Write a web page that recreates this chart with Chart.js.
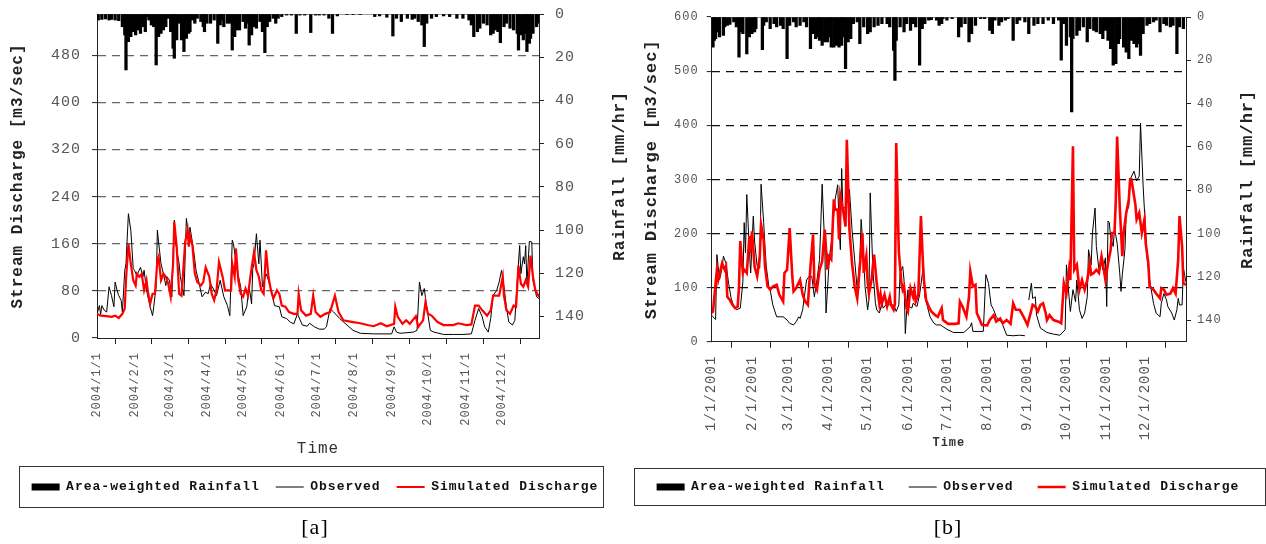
<!DOCTYPE html>
<html>
<head>
<meta charset="utf-8">
<script src="https://cdn.jsdelivr.net/npm/chart.js@4.4.1/dist/chart.umd.min.js"></script>
<style>
  html, body { margin: 0; padding: 0; background: #fff; }
  body { width: 1266px; height: 544px; position: relative; overflow: hidden; }
  .panel { position: absolute; top: 0; height: 544px; }
  #panelA { left: 0; width: 630px; }
  #panelB { left: 630px; width: 636px; }
</style>
</head>
<body>
<div class="panel" id="panelA"><canvas id="chartA"></canvas></div>
<div class="panel" id="panelB"><canvas id="chartB"></canvas></div>
<script>
const seriesNames = ['Area-weighted Rainfall', 'Observed', 'Simulated Discharge'];

// ---- Panel [a], 2004 (day of year) ----
const monthStartsA = [0, 31, 60, 91, 121, 152, 182, 213, 244, 274, 305, 335, 366];
const monthLabelsA = ['2004/1/1', '2004/2/1', '2004/3/1', '2004/4/1', '2004/5/1', '2004/6/1',
  '2004/7/1', '2004/8/1', '2004/9/1', '2004/10/1', '2004/11/1', '2004/12/1', ''];
const dischargeTicksA = [0, 80, 160, 240, 320, 400, 480];

const rainfallA = [[1,2.8],[4,2.5],[7,2.3],[10,2.8],[12,2.5],[15,2.8],[18,3.1],[21,5.9],[23,9.7],[24,25.9],
  [26,12.8],[28,10.5],[30,8.2],[32,9.7],[34,7.4],[36,9],[38,5.9],[40,8.2],[41,1.2],[43,2.8],[45,5.1],[47,5.9],
  [49,23.6],[51,10.5],[53,9],[55,7.4],[57,5.9],[59,2],[61,8.2],[63,15.9],[64,20.5],[66,12],[68,4.3],[70,12],
  [72,17.4],[74,11.3],[76,9],[77,8.2],[79,2.8],[81,4.3],[83,2],[86,3.5],[88,5.9],[89,8.2],[91,4.3],[94,4.3],
  [97,2.8],[100,13.6],[102,5.1],[103,2.8],[105,5.9],[108,4.3],[110,4.3],[112,16.7],[114,10.5],[116,7.4],
  [118,7.4],[121,3.5],[123,6.6],[125,4.3],[126,14.4],[128,9.7],[130,5.9],[132,6.6],[135,3.5],[137,8.2],
  [139,17.9],[141,5.9],[143,3.5],[146,2],[148,4.3],[150,2],[153,1.2],[157,0.5],[161,0.5],[165,9],[168,0.5],
  [172,0.5],[177,8.6],[181,0.5],[184,0.5],[188,0.5],[192,2],[195,9],[199,0.9],[207,0.3],[212,0.3],[218,0.3],
  [230,1.2],[234,0.9],[240,1.5],[245,10.2],[248,2],[252,3.5],[257,2],[261,2.5],[263,2],[266,3.5],[269,5.1],
  [271,15.1],[273,4.3],[277,2],[281,1.2],[287,0.9],[292,1.2],[298,2],[303,2],[308,2.8],[310,5.1],[312,10.5],
  [315,8.2],[317,6.6],[320,4.3],[323,5.1],[326,9.7],[328,9],[330,7.4],[332,8.2],[334,13.3],[337,5.9],
  [339,4.3],[342,6.6],[345,7.4],[348,9],[349,16.7],[351,9.7],[353,12],[355,9],[356,17.4],[358,13.6],
  [359,11.3],[361,9],[364,5.9],[365,4.3]];

const observedA = [[0,41],[2,55],[3,40],[4,55],[6,47],[8,44],[10,87],[12,72],[14,53],[15,95],[17,78],[18,72],
  [20,64],[21,44],[23,115],[24,126],[26,211],[28,183],[30,118],[31,115],[33,106],[36,120],[38,104],[39,115],
  [41,81],[44,53],[46,38],[47,53],[49,89],[50,183],[51,163],[53,126],[55,109],[57,89],[58,104],[60,98],
  [62,70],[64,200],[65,163],[68,126],[69,104],[72,72],[74,203],[76,171],[77,188],[80,149],[82,115],[84,98],
  [87,70],[90,78],[92,75],[94,92],[97,81],[99,72],[102,98],[105,70],[108,55],[110,38],[112,166],[113,160],
  [116,115],[119,87],[121,38],[124,53],[126,87],[128,58],[129,118],[130,126],[132,177],[134,126],[135,166],
  [137,87],[140,109],[142,98],[145,75],[147,55],[151,53],[153,36],[157,33],[160,27],[163,24],[166,41],
  [170,22],[174,20],[176,25],[180,19],[184,15],[188,15],[190,19],[193,50],[196,44],[201,33],[207,22],
  [212,13],[218,8],[229,7],[244,7],[246,19],[248,10],[251,8],[262,10],[265,13],[267,95],[269,72],[271,84],
  [273,53],[276,13],[279,10],[287,6],[295,6],[303,6],[310,7],[313,30],[316,50],[319,36],[321,19],[324,10],
  [326,33],[328,72],[331,81],[333,95],[335,115],[337,87],[339,53],[341,27],[344,22],[346,30],[348,98],
  [350,157],[351,109],[353,138],[354,126],[355,157],[356,92],[358,164],[360,163],[361,98],[364,70],[366,67]];

const simulatedA = [[0,41],[3,38],[8,37],[12,36],[15,38],[18,34],[21,41],[23,50],[24,98],[26,160],[28,126],
  [30,98],[32,89],[33,109],[35,104],[37,109],[39,81],[41,98],[42,81],[44,58],[46,75],[48,75],[50,132],
  [51,138],[53,98],[55,109],[57,104],[59,92],[61,70],[63,126],[64,197],[66,155],[68,75],[70,72],[73,163],
  [75,183],[76,155],[77,174],[79,157],[81,109],[83,95],[86,89],[88,95],[90,120],[93,104],[95,75],[97,64],
  [99,81],[101,129],[104,104],[106,81],[111,81],[112,126],[114,104],[115,152],[117,98],[119,75],[121,70],
  [123,84],[125,72],[127,104],[129,132],[130,146],[132,115],[134,104],[136,81],[138,75],[140,149],[142,104],
  [144,81],[146,67],[149,81],[151,75],[153,55],[156,53],[159,44],[163,41],[166,41],[167,75],[169,47],
  [173,38],[177,41],[179,72],[181,44],[184,38],[185,36],[189,41],[193,44],[197,72],[200,44],[204,30],
  [212,27],[218,25],[224,22],[229,20],[235,25],[240,20],[246,24],[247,53],[249,36],[253,24],[256,30],
  [259,24],[264,37],[266,19],[270,30],[272,61],[274,41],[277,38],[282,27],[287,22],[295,22],[299,25],
  [306,22],[310,23],[313,55],[316,55],[319,47],[323,38],[326,47],[328,72],[330,72],[333,72],[336,104],
  [337,72],[339,47],[342,41],[345,55],[347,53],[349,123],[351,92],[353,87],[355,98],[357,87],[359,140],
  [361,104],[363,81],[366,70]];

// ---- Panel [b], 2001 (day of year) ----
const monthStartsB = [0, 31, 59, 90, 120, 151, 181, 212, 243, 273, 304, 334, 365];
const monthLabelsB = ['1/1/2001', '2/1/2001', '3/1/2001', '4/1/2001', '5/1/2001', '6/1/2001',
  '7/1/2001', '8/1/2001', '9/1/2001', '10/1/2001', '11/1/2001', '12/1/2001', ''];
const dischargeTicksB = [0, 100, 200, 300, 400, 500, 600];

const rainfallB = [[1,13.9],[2,10.8],[3,10],[5,6.9],[6,9.2],[9,8.5],[10,4.6],[12,3.9],[14,3.4],[17,2.3],
  [19,4.6],[21,18.5],[23,6.9],[24,7.7],[27,17],[29,9.2],[31,7.7],[33,6.9],[34,5.4],[39,15.1],[40,3.9],
  [42,2.3],[45,5.4],[48,3.1],[50,4.6],[53,3.9],[55,5.4],[58,19.2],[60,3.9],[63,2.3],[65,4.6],[68,3.9],
  [71,2.3],[73,4.6],[76,14.6],[78,7.7],[80,10],[82,9.2],[83,10.8],[85,13.1],[87,11.5],[89,11.5],[91,9.2],
  [92,13.9],[94,13.9],[96,13.1],[98,13.9],[100,13.1],[101,9.2],[103,23.9],[105,11.5],[107,10],[109,3.1],
  [112,2.3],[114,12.3],[117,4.6],[120,7.7],[122,6.9],[125,4.6],[128,3.9],[131,3.1],[135,3.1],[137,4.6],
  [140,15.4],[141,29.3],[142,10.8],[145,4.6],[148,6.9],[150,3.1],[153,6.2],[155,3.1],[157,4.6],[160,22.3],
  [162,5.4],[164,3.1],[167,1.5],[169,1.2],[173,1.5],[175,3.9],[177,3.1],[178,0.8],[181,1.5],[185,0.8],
  [190,9.2],[192,4.6],[195,3.1],[198,11.5],[200,7.7],[203,3.9],[207,0.8],[210,0.8],[214,6.2],[216,7.7],
  [218,1.5],[221,3.9],[223,2.3],[226,1.5],[228,0.8],[232,10.8],[235,3.1],[237,1.5],[241,2.3],[244,7.7],
  [248,3.9],[251,3.1],[255,3.1],[259,1.5],[263,3.1],[267,1.5],[269,20],[271,3.1],[273,13.1],[276,9.2],
  [277,43.9],[278,10],[281,8.5],[283,6.2],[286,4.6],[289,11.5],[291,5.4],[294,6.2],[296,6.9],[299,7.7],
  [301,10],[303,6.2],[305,10.8],[307,14.6],[309,22.3],[311,21.6],[313,12.3],[314,10],[317,13.9],[319,16.2],
  [321,19.2],[323,10.8],[325,12.3],[327,13.9],[329,12.3],[330,17.7],[332,7.7],[335,3.9],[337,3.1],[340,2.3],
  [342,1.5],[345,6.9],[348,3.1],[350,3.9],[353,4.6],[355,3.9],[358,16.9],[360,4.6],[363,5.4]];

const observedB = [[0,49],[1,46],[3,41],[4,161],[6,114],[8,136],[9,158],[11,145],[13,108],[15,80],[17,65],
  [19,59],[22,62],[24,111],[25,220],[26,164],[27,272],[29,167],[30,127],[32,232],[33,186],[35,139],[37,136],
  [38,291],[40,220],[41,176],[42,139],[44,102],[45,96],[47,68],[50,46],[53,46],[55,46],[58,40],[60,34],
  [63,31],[65,37],[67,46],[68,43],[70,59],[73,114],[75,121],[77,121],[79,83],[81,114],[83,152],[84,220],
  [85,291],[87,176],[88,53],[90,133],[91,164],[93,201],[94,238],[95,263],[97,290],[98,213],[99,170],
  [100,320],[101,244],[103,250],[105,263],[106,281],[108,207],[110,152],[112,96],[114,152],[115,226],
  [117,158],[118,102],[120,59],[121,77],[122,275],[124,133],[126,71],[127,59],[129,53],[131,71],[132,62],
  [135,71],[137,68],[140,68],[142,56],[144,68],[145,127],[147,139],[148,114],[149,15],[151,96],[152,65],
  [154,62],[155,71],[158,65],[160,87],[163,142],[164,83],[166,65],[168,46],[171,34],[173,31],[176,31],
  [181,23],[186,17],[194,17],[199,28],[200,35],[201,19],[209,19],[211,124],[213,108],[215,68],[217,59],
  [219,46],[221,40],[223,37],[227,12],[232,11],[237,12],[241,11],[242,null],[244,77],[246,108],[247,80],
  [249,83],[250,49],[253,25],[258,17],[263,14],[268,12],[272,22],[273,142],[275,83],[276,56],[278,96],
  [280,74],[281,114],[283,59],[285,43],[287,53],[289,83],[290,170],[292,142],[293,201],[295,247],[296,176],
  [298,133],[300,145],[301,133],[303,155],[304,65],[305,223],[306,220],[307,192],[309,176],[310,210],
  [312,182],[314,127],[315,93],[316,124],[318,170],[319,238],[321,250],[322,300],[325,315],[327,297],
  [329,306],[330,404],[332,288],[334,201],[335,158],[337,114],[340,71],[342,53],[345,46],[346,71],[348,89],
  [350,77],[351,65],[354,53],[356,40],[358,59],[359,80],[360,68],[362,68],[363,136],[365,110]];

const simulatedB = [[0,53],[1,56],[3,108],[4,133],[5,114],[6,124],[8,145],[10,133],[11,139],[12,83],[14,77],
  [16,68],[18,62],[20,65],[21,102],[22,186],[24,127],[25,133],[27,127],[29,195],[30,176],[31,204],[33,139],
  [35,121],[37,158],[38,216],[40,188],[41,139],[43,102],[45,96],[47,102],[50,105],[52,87],[55,74],[56,127],
  [58,133],[60,210],[62,121],[63,93],[65,99],[68,114],[70,87],[72,74],[74,68],[76,139],[78,198],[79,108],
  [81,96],[83,133],[85,148],[87,207],[89,133],[90,158],[92,152],[94,263],[95,244],[97,244],[98,189],
  [99,269],[101,244],[103,213],[104,373],[106,207],[108,145],[110,102],[112,80],[114,139],[116,201],
  [117,127],[119,158],[120,111],[121,89],[123,114],[124,139],[125,161],[127,108],[129,71],[130,87],[131,71],
  [133,87],[135,65],[137,83],[138,68],[140,59],[141,70],[142,367],[144,167],[146,108],[147,96],[148,102],
  [150,62],[151,56],[153,99],[155,83],[156,96],[157,74],[159,87],[161,232],[163,121],[165,77],[167,65],
  [169,56],[172,49],[174,46],[177,62],[178,40],[182,33],[187,33],[190,34],[191,74],[193,65],[196,46],
  [198,83],[199,130],[201,102],[203,105],[204,53],[208,31],[212,30],[214,40],[217,49],[219,37],[222,43],
  [224,34],[227,40],[230,33],[232,71],[234,59],[237,59],[240,46],[243,31],[245,49],[247,68],[249,65],
  [251,56],[253,68],[255,71],[257,53],[258,40],[260,49],[263,40],[267,37],[269,34],[271,108],[273,89],
  [275,133],[276,114],[278,361],[279,133],[281,142],[283,96],[285,114],[287,96],[289,114],[291,145],
  [292,124],[294,127],[296,133],[298,127],[300,158],[301,145],[303,114],[305,145],[307,170],[308,201],
  [310,201],[311,263],[312,379],[314,250],[316,158],[317,201],[319,238],[321,263],[322,300],[323,300],
  [326,254],[327,226],[329,238],[331,201],[333,226],[334,182],[336,145],[337,102],[340,96],[342,89],
  [345,80],[346,99],[348,96],[350,87],[353,89],[355,99],[357,89],[359,152],[360,232],[362,176],[363,108],
  [365,105]];

const rainTicks = [0, 20, 40, 60, 80, 100, 120, 140];

const MONO = '"Liberation Mono", "Courier New", monospace';
const toXY = pairs => pairs.map(([x, y]) => ({ x, y }));

function makePanel(canvas, p) {
  // letter spacing like the wide Courier text of the original
  const spacing = {
    id: 'spacing',
    beforeUpdate: chart => { chart.ctx.letterSpacing = '1px'; },
    beforeDraw: chart => { chart.ctx.letterSpacing = '1px'; }
  };
  // right axis title reads bottom-to-top, like the left one
  const rightTitle = {
    id: 'rightTitle',
    afterDraw: chart => {
      const ctx = chart.ctx, area = chart.chartArea;
      ctx.save();
      ctx.letterSpacing = '1px';
      ctx.font = `bold ${p.titleSize}px ${MONO}`;
      ctx.fillStyle = '#222';
      ctx.translate(chart.width - p.rightTitleOffset, (area.top + area.bottom) / 2);
      ctx.rotate(-Math.PI / 2);
      ctx.textAlign = 'center';
      ctx.textBaseline = 'middle';
      ctx.fillText('Rainfall [mm/hr]', 0, 0);
      ctx.restore();
    }
  };
  // frame round the legend
  const legendFrame = {
    id: 'legendFrame',
    afterDraw: chart => {
      const hb = chart.legend.legendHitBoxes;
      if (!hb || !hb.length) return;
      const left = Math.min(...hb.map(h => h.left)) - p.frameLeft;
      const right = Math.max(...hb.map(h => h.left + h.width)) + p.frameRight;
      const cy = hb[0].top + hb[0].height / 2;
      const ctx = chart.ctx;
      ctx.save();
      ctx.strokeStyle = '#333';
      ctx.lineWidth = 1;
      ctx.strokeRect(Math.round(left) + 0.5, Math.round(cy - p.frameUp) + 0.5,
        Math.round(right - left), p.frameH);
      ctx.restore();
    }
  };
  // vertical axes: keep the plot top where the original has it
  const noLabelPad = s => { s.paddingTop = 0; s.paddingBottom = 0; };

  return new Chart(canvas, {
    type: 'line',
    data: {
      datasets: [
        { type: 'bar', label: seriesNames[0], data: toXY(p.rain), yAxisID: 'y2',
          backgroundColor: '#000', borderWidth: 0, barThickness: 2.6, grouped: false, order: 2 },
        { label: seriesNames[1], data: toXY(p.observed), yAxisID: 'y',
          borderColor: '#000', borderWidth: 1, pointRadius: 0, tension: 0, order: 1 },
        { label: seriesNames[2], data: toXY(p.simulated), yAxisID: 'y',
          borderColor: '#ff0000', borderWidth: p.simWidth, pointRadius: 0, tension: 0, order: 0 }
      ]
    },
    options: {
      responsive: true,
      maintainAspectRatio: false,
      animation: false,
      devicePixelRatio: 1,
      events: [],
      layout: { padding: { top: p.padTop, left: 0, right: 0, bottom: 0 } },
      scales: {
        x: {
          type: 'linear', min: 0, max: p.xMax, offset: false,
          afterBuildTicks: s => { s.ticks = p.monthStarts.map(v => ({ value: v })); },
          afterFit: s => { s.height = p.xHeight; },
          ticks: {
            autoSkip: false, minRotation: 90, maxRotation: 90, padding: p.xTickPad,
            color: '#555', font: { family: MONO, size: p.xTickSize },
            callback: (v, i) => p.monthLabels[i]
          },
          grid: { drawOnChartArea: false, tickLength: 6, tickColor: '#222', color: '#222' },
          border: { color: '#222', width: 1 },
          title: {
            display: true, text: 'Time', color: '#333',
            font: { family: MONO, size: p.timeSize, weight: p.timeWeight },
            padding: { top: 0, bottom: p.timePadBottom }
          }
        },
        y: {
          type: 'linear', position: 'left', min: 0, max: p.yMax,
          afterBuildTicks: s => { s.ticks = p.yTicks.map(v => ({ value: v })); },
          afterFit: s => { s.width = p.leftWidth; noLabelPad(s); },
          ticks: { padding: p.yTickPad, color: '#555', font: { family: MONO, size: p.yTickSize },
            callback: v => String(v) },
          grid: {
            color: c => (c.tick && (c.tick.value === 0 || c.tick.value === p.yMax)) ? 'rgba(0,0,0,0)' : p.gridColor,
            lineWidth: 1.2, tickLength: 5, tickColor: '#222', tickBorderDash: [], tickWidth: 1
          },
          border: { color: '#222', width: 1, dash: [8, 6] },
          title: {
            display: true, text: 'Stream Discharge [m3/sec]', color: '#222',
            font: { family: MONO, size: p.titleSize, weight: 'bold' },
            padding: { top: p.leftTitlePad, bottom: 0 }
          }
        },
        y2: {
          type: 'linear', position: 'right', min: 0, max: 150, reverse: true,
          afterBuildTicks: s => { s.ticks = rainTicks.map(v => ({ value: v })); },
          afterFit: s => { s.width = p.rightWidth; noLabelPad(s); },
          ticks: { padding: p.y2TickPad, color: '#555', font: { family: MONO, size: p.y2TickSize },
            callback: v => String(v) },
          grid: {
            drawOnChartArea: true,
            color: c => (c.tick && c.tick.value === 0) ? '#999' : 'rgba(0,0,0,0)',
            tickLength: 5, tickColor: '#222', tickWidth: 1
          },
          border: { color: '#222', width: 1 }
        }
      },
      plugins: {
        tooltip: { enabled: false },
        legend: {
          position: 'bottom',
          labels: {
            usePointStyle: true, pointStyleWidth: 28, boxWidth: 28, boxHeight: 7,
            padding: p.legendPad, color: '#111',
            font: { family: MONO, size: 13, weight: 'bold' },
            sort: (a, b) => a.datasetIndex - b.datasetIndex,
            generateLabels: chart => Chart.defaults.plugins.legend.labels.generateLabels(chart).map(item => {
              const ds = chart.data.datasets[item.datasetIndex];
              if (ds.type === 'bar') {
                item.pointStyle = 'rect'; item.fillStyle = '#000'; item.lineWidth = 0;
              } else {
                item.pointStyle = 'line'; item.strokeStyle = ds.borderColor;
                item.lineWidth = ds.borderWidth;
              }
              return item;
            })
          }
        },
        title: {
          display: true, position: 'bottom', text: p.caption, color: '#000',
          font: { family: '"Liberation Serif", "Times New Roman", serif', size: 22, weight: 'normal' },
          padding: { top: 11.3, bottom: 2.8 }
        }
      }
    },
    plugins: [spacing, rightTitle, legendFrame]
  });
}

makePanel(document.getElementById('chartA'), {
  caption: '[a]', rain: rainfallA, observed: observedA, simulated: simulatedA,
  monthStarts: monthStartsA, monthLabels: monthLabelsA, xMax: 366,
  yTicks: dischargeTicksA, yMax: 550, gridColor: '#666', simWidth: 2.2,
  padTop: 14, leftWidth: 97, rightWidth: 91, xHeight: 126.5,
  xTickSize: 12, xTickPad: 8, yTickSize: 15, yTickPad: 11, y2TickSize: 15, y2TickPad: 11,
  titleSize: 16, leftTitlePad: 8.4, rightTitleOffset: 10,
  timeSize: 16, timeWeight: 'normal', timePadBottom: 6,
  legendPad: 16, frameUp: 21, frameH: 41, frameLeft: 13, frameRight: 4
});

makePanel(document.getElementById('chartB'), {
  caption: '[b]', rain: rainfallB, observed: observedB, simulated: simulatedB,
  monthStarts: monthStartsB, monthLabels: monthLabelsB, xMax: 365,
  yTicks: dischargeTicksB, yMax: 600, gridColor: '#111', simWidth: 2.6,
  padTop: 17, leftWidth: 81.7, rightWidth: 80, xHeight: 114.8,
  xTickSize: 14, xTickPad: 8, yTickSize: 12, yTickPad: 8, y2TickSize: 12, y2TickPad: 6,
  titleSize: 17, leftTitlePad: 11.8, rightTitleOffset: 18,
  timeSize: 12, timeWeight: 'bold', timePadBottom: 6.3,
  legendPad: 24, frameUp: 19, frameH: 37, frameLeft: 23, frameRight: 25
});
</script>
</body>
</html>
